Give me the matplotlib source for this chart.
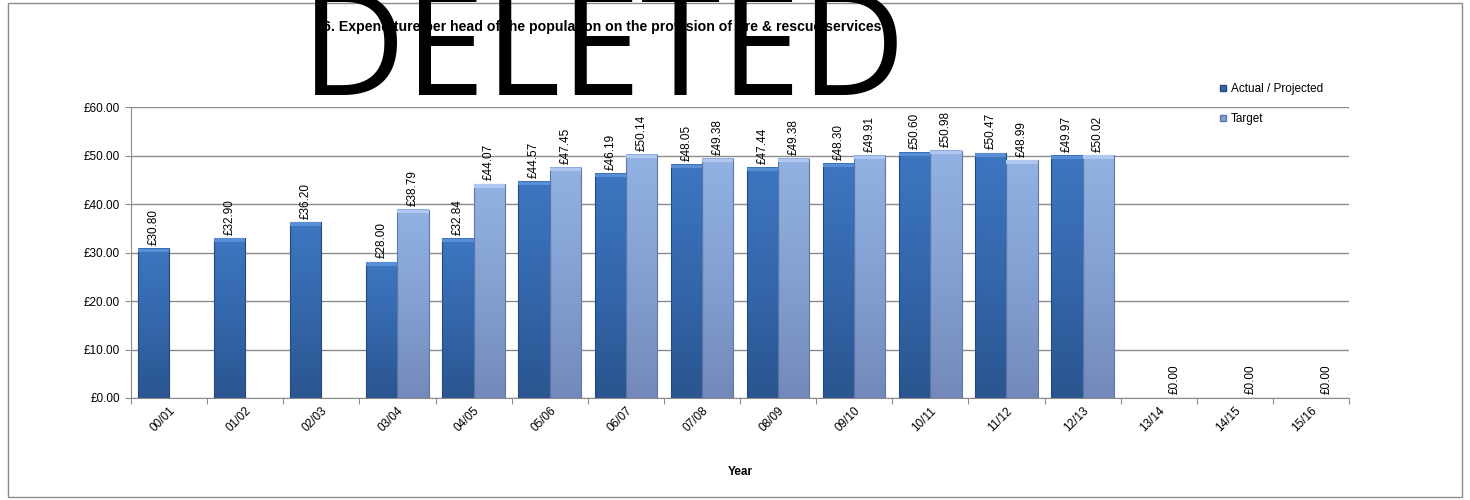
import numpy as np
import matplotlib.pyplot as plt
from matplotlib.colors import LinearSegmentedColormap
from matplotlib.lines import Line2D
from matplotlib.patches import Rectangle

years = ["00/01", "01/02", "02/03", "03/04", "04/05", "05/06", "06/07", "07/08",
         "08/09", "09/10", "10/11", "11/12", "12/13", "13/14", "14/15", "15/16"]
actual = [30.80, 32.90, 36.20, 28.00, 32.84, 44.57, 46.19, 48.05,
          47.44, 48.30, 50.60, 50.47, 49.97, np.nan, np.nan, np.nan]
target = [np.nan, np.nan, np.nan, 38.79, 44.07, 47.45, 50.14, 49.38,
          49.38, 49.91, 50.98, 48.99, 50.02, 0.00, 0.00, 0.00]
y_ticks = [0, 10, 20, 30, 40, 50, 60]

title = "6. Expenditure per head of the population on the provision of fire & rescue services"

plt.rcParams["font.family"] = ["Liberation Sans", "DejaVu Sans"]

fig = plt.figure(figsize=(14.7, 5), dpi=100)
ax = fig.add_axes([131 / 1470, 1 - 398 / 500, 1218 / 1470, 291 / 500])

# outer chart border
fig.patches.append(Rectangle((8 / 1470, 3 / 500), 1454 / 1470, 494 / 500,
                             transform=fig.transFigure, fill=False,
                             edgecolor="#8c8c8c", linewidth=1.0))

actual_cmap = LinearSegmentedColormap.from_list(
    "actual", ["#2a5590", "#3467ab", "#3d76c1"])
target_cmap = LinearSegmentedColormap.from_list(
    "target", ["#7489bb", "#83a0d2", "#92b2e4"])

bar_w = 0.41
x = np.arange(len(years))
grad = np.linspace(0, 1, 256).reshape(-1, 1)


def draw_bar(xc, h, cmap, edge, cap):
    x0, x1 = xc - bar_w / 2, xc + bar_w / 2
    ax.imshow(grad, extent=[x0, x1, 0, h], origin="lower", aspect="auto",
              cmap=cmap, zorder=2)
    ax.add_patch(Rectangle((x0, 0), bar_w, h, fill=False, edgecolor=edge,
                           linewidth=0.8, zorder=3))
    # lighter bevel along the top edge
    ax.add_patch(Rectangle((x0, h - 0.7), bar_w, 0.7, facecolor=cap,
                           linewidth=0, zorder=3))


for xi, a, t in zip(x, actual, target):
    if not np.isnan(a):
        xc = xi + 0.5 - bar_w / 2
        if a > 0:
            draw_bar(xc, a, actual_cmap, "#24497c", "#5a8fd6")
        ax.text(xc, a + 0.8, f"£{a:.2f}", rotation=90, ha="center",
                va="bottom", fontsize=8.5)
    if not np.isnan(t):
        xc = xi + 0.5 + bar_w / 2
        if t > 0:
            draw_bar(xc, t, target_cmap, "#5f77a8", "#b0c8ef")
        ax.text(xc, t + 0.8, f"£{t:.2f}", rotation=90, ha="center",
                va="bottom", fontsize=8.5)

ax.set_xlim(0, len(years))
ax.set_ylim(0, 60)
ax.set_yticks(y_ticks)
ax.set_yticklabels([f"£{v:.2f}" for v in y_ticks], fontsize=8.5)
ax.set_xticks(np.arange(len(years) + 1))
ax.set_xticklabels([])
ax.set_xticks(x + 0.5, minor=True)
ax.set_xticklabels(years, minor=True, rotation=45, ha="right",
                   rotation_mode="anchor", fontsize=8.5)
ax.tick_params(axis="x", which="minor", length=0, pad=5)
ax.tick_params(axis="x", which="major", length=4, color="#8c8c8c")
ax.tick_params(axis="y", length=4, color="#8c8c8c", pad=4)

ax.grid(axis="y", color="#8c8c8c", linewidth=1.0, zorder=0)
ax.set_axisbelow(True)
for side in ["top", "right"]:
    ax.spines[side].set_visible(False)
for side in ["left", "bottom"]:
    ax.spines[side].set_color("#8c8c8c")

ax.set_xlabel("Year", fontsize=8.5, fontweight="bold", labelpad=23)

fig.text(602 / 1470, 1 - 27 / 500, title, ha="center", va="center",
         fontsize=10.2, fontweight="bold")

handles = [
    Line2D([], [], marker="s", linestyle="none", markersize=5,
           markerfacecolor="#3467ab", markeredgecolor="#24497c"),
    Line2D([], [], marker="s", linestyle="none", markersize=5,
           markerfacecolor="#83a0d2", markeredgecolor="#5f77a8"),
]
fig.legend(handles, ["Actual / Projected", "Target"], loc="upper left",
           bbox_to_anchor=(1214 / 1470, 1 - 77 / 500), frameon=False,
           fontsize=8.5, handlelength=0.6, handletextpad=0.3,
           labelspacing=1.55, borderpad=0)

# redaction stamp over the title
fig.text(604 / 1470, 1 - 95 / 500, "DELETED", ha="center", va="baseline",
         fontsize=104, family=["Open Sans", "DejaVu Sans"], color="black")

fig.savefig("out.png", dpi=100)
